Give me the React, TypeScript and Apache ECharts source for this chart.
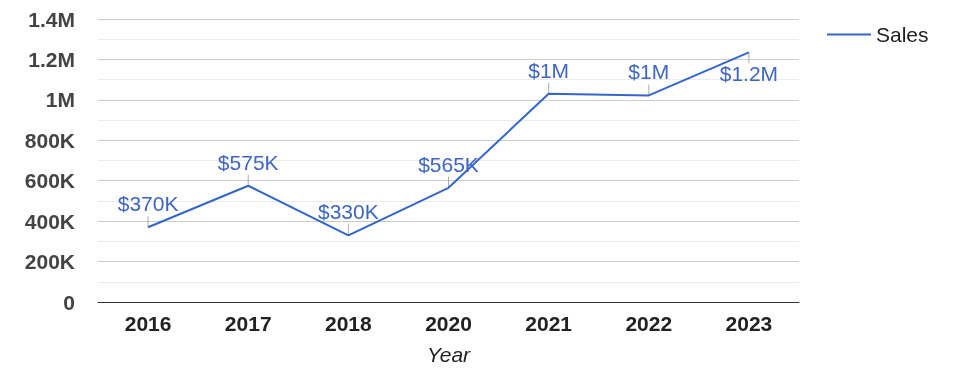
import React, { useEffect, useRef } from "react";
import * as echarts from "echarts";

const years = ["2016", "2017", "2018", "2020", "2021", "2022", "2023"];
const sales = [370000, 575000, 330000, 565000, 1030000, 1022000, 1235000];
const labelBelow = [false, false, false, false, false, false, true];

const fmtShort = (v: number) => {
  if (v >= 1e6) return `${+(v / 1e6).toFixed(1)}M`;
  if (v >= 1e3) return `${Math.round(v / 1e3)}K`;
  return `${v}`;
};

const FONT = "'Liberation Sans', Arial, sans-serif";

export default function App() {
  const ref = useRef<HTMLDivElement>(null);
  useEffect(() => {
    if (!ref.current) return;
    const chart = echarts.init(ref.current, undefined, { renderer: "svg" });
    chart.setOption({
      animation: false,
      textStyle: { fontFamily: FONT },
      grid: { left: 98, right: 176, top: 19, bottom: 76, containLabel: false },
      legend: {
        data: [{ name: "Sales", icon: "rect" }],
        left: 822,
        top: 19,
        itemWidth: 44,
        itemHeight: 2,
        itemStyle: { color: "#3366cc" },
        textStyle: { fontSize: 21, color: "#222", fontFamily: FONT },
      },
      xAxis: {
        type: "category",
        data: years,
        boundaryGap: true,
        axisLine: { lineStyle: { color: "#333", width: 1 } },
        axisTick: { show: false },
        axisLabel: { fontSize: 21, fontWeight: "bold", color: "#222", margin: 11, fontFamily: FONT },
        name: "Year",
        nameLocation: "middle",
        nameGap: 42,
        nameTextStyle: { fontSize: 21, fontStyle: "italic", color: "#222", fontFamily: FONT },
      },
      yAxis: {
        type: "value",
        min: 0,
        max: 1400000,
        interval: 200000,
        axisLine: { show: false },
        axisTick: { show: false },
        axisLabel: {
          fontSize: 21,
          fontWeight: "bold",
          color: "#444",
          margin: 23,
          fontFamily: FONT,
          formatter: (v: number) => fmtShort(v),
        },
        splitLine: { lineStyle: { color: "#cccccc", width: 1 } },
        minorTick: { show: false, splitNumber: 2 },
        minorSplitLine: { show: true, lineStyle: { color: "#ebebeb", width: 1 } },
      },
      series: [
        {
          name: "leaders",
          type: "scatter",
          silent: true,
          z: 1,
          data: sales.map((v, i) => ({
            value: v,
            symbolOffset: [0, labelBelow[i] ? 5.5 : -5.5],
          })),
          symbol: "rect",
          symbolSize: [1, 11],
          itemStyle: { color: "#999999" },
        },
        {
          name: "Sales",
          type: "line",
          z: 3,
          symbol: "circle",
          symbolSize: 0.1,
          showSymbol: true,
          data: sales.map((v, i) => ({
            value: v,
            label: {
              show: true,
              position: labelBelow[i] ? "bottom" : "top",
              distance: labelBelow[i] ? 11 : 13,
            },
          })),
          lineStyle: { color: "#3366cc", width: 2 },
          itemStyle: { color: "#3366cc" },
          label: {
            show: true,
            fontSize: 21,
            color: "#3d66c4",
            fontFamily: FONT,
            formatter: (p: any) => `$${fmtShort(p.value)}`,
          },
        },
      ],
    });
    return () => chart.dispose();
  }, []);
  return (
    <div
      ref={ref}
      style={{ position: "fixed", left: 0, top: 0, width: 975, height: 378 }}
    />
  );
}
